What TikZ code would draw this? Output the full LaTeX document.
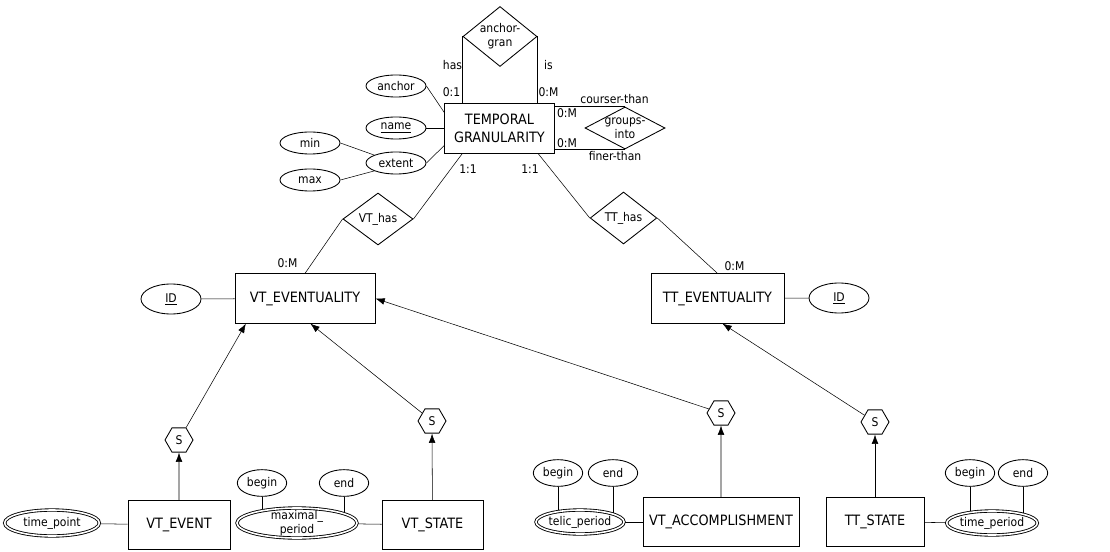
\documentclass[tikz,border=0pt]{standalone}
\usepackage{fontspec}
\setmainfont{DejaVu Sans Condensed}
\usetikzlibrary{arrows.meta,shapes.geometric,backgrounds}
\newcommand{\erbig}{\fontsize{10.7}{13.5}\selectfont}
\newcommand{\ersmall}{\fontsize{9}{10.5}\selectfont}
\tikzset{
  entity/.style={draw, rectangle, fill=white, font=\erbig, align=center, inner sep=0pt, minimum height=37pt},
  relship/.style={draw, diamond, fill=white, font=\ersmall, align=center, inner sep=-3pt},
  attr/.style={draw, ellipse, fill=white, font=\ersmall, align=center, inner sep=0pt, minimum width=45pt, minimum height=16.5pt},
  keyattr/.style={attr, minimum height=22.5pt},
  subattr/.style={attr, minimum width=37pt, minimum height=20pt},
  multattr/.style={attr, double, double distance=1.2pt, inner sep=-2pt},
  spec/.style={draw, regular polygon, regular polygon sides=6, fill=white, font=\ersmall, inner sep=0pt, minimum size=21pt},
  card/.style={font=\ersmall, inner sep=0pt},
  isa/.style={-{Latex[length=7pt,width=5pt]}},
}

\begin{document}
\begin{tikzpicture}[x=0.75pt, y=-0.75pt, line width=0.65pt]
    \useasboundingbox (0,0) rectangle (1110,552);

    % temporal granularity and its attributes
    \node[entity, minimum width=82pt] (tg) at (499.5,128.5) {TEMPORAL\\GRANULARITY} ;
    \node[relship, minimum width=55.5pt, minimum height=45pt] (ag) at (500,36.5) {anchor-\\gran} ;
    \node[relship, shape aspect=2, minimum width=60pt, minimum height=31.5pt] (gi) at (625,128) {groups-\\into} ;
    \node[attr] (anchor) at (396,86) {anchor} ;
    \node[attr] (name) at (396,128) {\underline{name}} ;
    \node[attr] (extent) at (396,163) {extent} ;
    \node[attr] (min) at (310,143) {min} ;
    \node[attr] (max) at (310,180) {max} ;

    % eventualities
    \node[relship, minimum width=52.5pt, minimum height=39pt] (vthas) at (378,219) {VT\_has} ;
    \node[relship, minimum width=50pt, minimum height=39pt] (tthas) at (623.5,218) {TT\_has} ;
    \node[entity, minimum width=105pt] (vtev) at (305,298.5) {VT\_EVENTUALITY} ;
    \node[entity, minimum width=99.75pt] (ttev) at (717.5,298.5) {TT\_EVENTUALITY} ;
    \node[keyattr] (vtid) at (171,299) {\underline{ID}} ;
    \node[keyattr] (ttid) at (839,298) {\underline{ID}} ;

    % specialisations
    \node[spec] (s1) at (179,440) {S} ;
    \node[spec] (s2) at (432,421) {S} ;
    \node[spec] (s3) at (721,413) {S} ;
    \node[spec] (s4) at (875,422) {S} ;

    \node[entity, minimum width=76.5pt] (vtevent) at (179,525) {VT\_EVENT} ;
    \node[entity, minimum width=75.75pt] (vtstate) at (432.5,525) {VT\_STATE} ;
    \node[entity, minimum width=117pt] (vtacc) at (721,522) {VT\_ACCOMPLISHMENT} ;
    \node[entity, minimum width=73.5pt] (ttstate) at (875,522) {TT\_STATE} ;

    \node[multattr, minimum width=71pt, minimum height=19.5pt] (tpoint) at (52,523) {time\_point} ;
    \node[multattr, minimum width=90pt, minimum height=22.5pt] (maxper) at (297,523) {maximal\_\\period} ;
    \node[multattr, minimum width=66pt, minimum height=18pt] (telper) at (580,522) {telic\_period} ;
    \node[multattr, minimum width=68pt, minimum height=18pt] (tper) at (992,523) {time\_period} ;
    \node[subattr] (begin1) at (262,483) {begin} ;
    \node[subattr] (end1) at (344,483) {end} ;
    \node[subattr] (begin2) at (558,473) {begin} ;
    \node[subattr] (end2) at (613,473) {end} ;
    \node[subattr] (begin3) at (970,473) {begin} ;
    \node[subattr] (end3) at (1023,473) {end} ;

    % roles and cardinalities
    \node[card] (has) at (452.5,65) {has} ;
    \node[card] (is) at (548.5,65) {is} ;
    \node[card] (agmin) at (451.5,92) {0:1} ;
    \node[card] (agmax) at (548.5,92) {0:M} ;
    \node[card] (courser) at (614.5,99) {courser-than} ;
    \node[card] (finer) at (615,156) {finer-than} ;
    \node[card] (gimax1) at (567,113) {0:M} ;
    \node[card] (gimax2) at (567,143) {0:M} ;
    \node[card] (vtone) at (468,169) {1:1} ;
    \node[card] (ttone) at (530,169) {1:1} ;
    \node[card] (vtmany) at (287.5,263) {0:M} ;
    \node[card] (ttmany) at (734.5,266) {0:M} ;

    \begin{pgfonlayer}{background}
    \draw (ag.west) -- (ag.west |- tg.north) ;
    \draw (ag.east) -- (ag.east |- tg.north) ;
    \draw (gi.north) -- (gi.north -| tg.east) ;
    \draw (gi.south) -- (gi.south -| tg.east) ;
    \draw (anchor.east) -- (tg.164) ;
    \draw (name) -- (name -| tg.west) ;
    \draw (extent.east) -- (tg.197) ;
    \draw (min.east) -- (extent.160) ;
    \draw (max.east) -- (extent.200) ;

    \draw (tg.-146) -- (vthas.east) ;
    \draw (vthas.west) -- (vtev.north) ;
    \draw (tg.-33) -- (tthas.west) ;
    \draw (tthas.east) -- (ttev.north) ;
    \draw (vtid) -- (vtev) ;
    \draw (ttev) -- (ttid) ;

    \draw[isa] (s1) -- (vtev.203) ;
    \draw[isa] (s2) -- (vtev.-78) ;
    \draw[isa] (s3) -- (vtev.east) ;
    \draw[isa] (s4) -- (ttev.-79) ;
    \draw[isa] (vtevent) -- (s1) ;
    \draw[isa] (vtstate) -- (s2) ;
    \draw[isa] (vtacc) -- (s3) ;
    \draw[isa] (ttstate) -- (s4) ;

    \draw (tpoint) -- (vtevent) ;
    \draw (maxper) -- (vtstate) ;
    \draw (telper) -- (vtacc) ;
    \draw (ttstate) -- (tper) ;
    \draw (begin1) -- (begin1 |- maxper) ;
    \draw (end1) -- (end1 |- maxper) ;
    \draw (begin2) -- (begin2 |- telper) ;
    \draw (end2) -- (end2 |- telper) ;
    \draw (begin3) -- (begin3 |- tper) ;
    \draw (end3) -- (end3 |- tper) ;
    \end{pgfonlayer}
\end{tikzpicture}
\end{document}
